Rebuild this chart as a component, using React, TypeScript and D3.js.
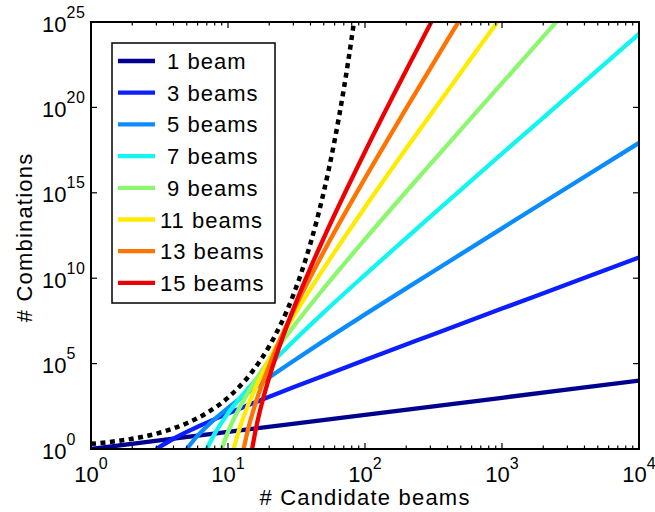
import React from "react";
import * as d3 from "d3";

// Number of simultaneous beams per curve and legend text
const beamCounts = [1, 3, 5, 7, 9, 11, 13, 15];
const legendLabels = [" 1 beam", " 3 beams", " 5 beams", " 7 beams", " 9 beams", "11 beams", "13 beams", "15 beams"];
const seriesColors = ["#00008f", "#0a1eff", "#0a8cff", "#12f5f0", "#8cf76e", "#ffeb00", "#ff7300", "#ee0000"];

// Candidate-beam counts (x) and log10 of number of combinations (y) per curve
const beams1N = [1, 10, 100, 1000, 10000];
const beams1Exp = [0, 1, 2, 3, 4];
const beams3N = [3, 4, 5, 6, 8, 10, 15, 20, 30, 50, 100, 300, 1000, 3000, 10000];
const beams3Exp = [0, 0.6, 1.0, 1.3, 1.75, 2.08, 2.66, 3.06, 3.61, 4.29, 5.21, 6.65, 8.22, 9.65, 11.22];
const beams5N = [5, 6, 7, 8, 10, 12, 15, 20, 30, 50, 100, 300, 1000, 3000, 10000];
const beams5Exp = [0, 0.78, 1.32, 1.75, 2.4, 2.9, 3.48, 4.19, 5.15, 6.33, 7.88, 10.29, 12.92, 15.31, 17.92];
const beams7N = [7, 8, 9, 10, 12, 15, 20, 30, 50, 100, 300, 1000, 3000, 10000];
const beams7Exp = [0, 0.9, 1.56, 2.08, 2.9, 3.81, 4.89, 6.31, 8.0, 10.2, 13.61, 17.29, 20.63, 24.3];
const beams9N = [9, 10, 11, 12, 13, 15, 20, 30, 50, 100, 300, 1000, 2000, 3000];
const beams9Exp = [0, 1.0, 1.74, 2.34, 2.85, 3.7, 5.23, 7.16, 9.4, 12.28, 16.68, 21.42, 24.14, 25.73];
const beams11N = [11, 12, 13, 14, 15, 16, 18, 20, 25, 30, 50, 100, 200, 500, 1000];
const beams11Exp = [0, 1.08, 1.89, 2.56, 3.14, 3.64, 4.5, 5.23, 6.65, 7.74, 10.57, 14.15, 17.59, 22.04, 25.37];
const beams13N = [13, 14, 15, 16, 17, 18, 20, 25, 30, 50, 100, 200, 400, 500];
const beams13Exp = [0, 1.15, 2.02, 2.75, 3.38, 3.93, 4.89, 6.72, 8.08, 11.55, 15.85, 19.94, 23.95, 25.22];
const beams15N = [15, 16, 17, 18, 19, 20, 22, 25, 30, 40, 50, 100, 200, 300, 320];
const beams15Exp = [0, 1.2, 2.13, 2.91, 3.59, 4.19, 5.23, 6.51, 8.19, 10.61, 12.35, 17.4, 22.17, 24.89, 25.32];
// Total of all subsets (dotted black curve)
const allSubsetsN = [1, 2, 3, 5, 7, 10, 15, 20, 30, 40, 50, 60, 70, 80, 85];
const allSubsetsExp = [0.3, 0.6, 0.9, 1.51, 2.11, 3.01, 4.52, 6.02, 9.03, 12.04, 15.05, 18.06, 21.07, 24.08, 25.59];

const seriesN = [beams1N, beams3N, beams5N, beams7N, beams9N, beams11N, beams13N, beams15N];
const seriesExp = [beams1Exp, beams3Exp, beams5Exp, beams7Exp, beams9Exp, beams11Exp, beams13Exp, beams15Exp];

const xTickExps = [0, 1, 2, 3, 4];
const yTickExps = [0, 5, 10, 15, 20, 25];

const W = 655;
const H = 512;
const left = 91;
const right = 639;
const top = 22;
const bottom = 449;
const FONT = "'Liberation Sans', Arial, Helvetica, sans-serif";

export default function App() {
  const x = d3.scaleLog().domain([1, 1e4]).range([left, right]);
  const y = d3.scaleLog().domain([1, 1e25]).range([bottom, top]);

  const line = d3
    .line<[number, number]>()
    .x((d) => x(d[0]))
    .y((d) => y(Math.pow(10, d[1])))
    .curve(d3.curveMonotoneX);

  const pts = (ns: number[], es: number[]) => ns.map((n, i) => [n, es[i]] as [number, number]);

  // minor ticks on the x axis
  const minorX: number[] = [];
  for (let e = 0; e < 4; e++) {
    for (let m = 2; m <= 9; m++) minorX.push(m * Math.pow(10, e));
  }

  const legendX = 112;
  const legendY = 43;
  const legendW = 163;
  const legendH = 260;
  const rowGap = 31.7;

  return (
    <svg width={W} height={H} style={{ position: "absolute", left: 0, top: 0, background: "#fff" }}>
      <defs>
        <clipPath id="plotClip">
          <rect x={left} y={top} width={right - left} height={bottom - top} />
        </clipPath>
      </defs>
      <rect x={0} y={0} width={W} height={H} fill="#fff" />

      <g clipPath="url(#plotClip)" fill="none">
        <path
          d={line(pts(allSubsetsN, allSubsetsExp)) || ""}
          stroke="#000"
          strokeWidth={4.5}
          strokeDasharray="5,4.5"
        />
        {beamCounts.map((k, i) => (
          <path key={k} d={line(pts(seriesN[i], seriesExp[i])) || ""} stroke={seriesColors[i]} strokeWidth={4.3} />
        ))}
      </g>

      {/* ticks */}
      <g stroke="#000" strokeWidth={1.2}>
        {xTickExps.map((e) => {
          const px = x(Math.pow(10, e));
          return (
            <g key={"xt" + e}>
              <line x1={px} x2={px} y1={bottom} y2={bottom - 6} />
              <line x1={px} x2={px} y1={top} y2={top + 6} />
            </g>
          );
        })}
        {minorX.map((v) => {
          const px = x(v);
          return (
            <g key={"xm" + v}>
              <line x1={px} x2={px} y1={bottom} y2={bottom - 3.5} />
              <line x1={px} x2={px} y1={top} y2={top + 3.5} />
            </g>
          );
        })}
        {yTickExps.map((e) => {
          const py = y(Math.pow(10, e));
          return (
            <g key={"yt" + e}>
              <line x1={left} x2={left + 6} y1={py} y2={py} />
              <line x1={right} x2={right - 6} y1={py} y2={py} />
            </g>
          );
        })}
      </g>

      {/* axes box */}
      <rect x={left} y={top} width={right - left} height={bottom - top} fill="none" stroke="#000" strokeWidth={2} />

      {/* x tick labels */}
      <g fontFamily={FONT} fill="#000">
        {xTickExps.map((e) => {
          const px = x(Math.pow(10, e));
          return (
            <text key={"xl" + e} x={px} y={482} textAnchor="middle" fontSize={22}>
              10
              <tspan fontSize={16} dy={-13}>
                {e}
              </tspan>
            </text>
          );
        })}
        {yTickExps.map((e) => {
          const py = y(Math.pow(10, e));
          return (
            <text key={"yl" + e} x={42} y={py + 9.5} textAnchor="start" fontSize={22}>
              10
              <tspan fontSize={16} dy={-14} letterSpacing={0.5}>
                {e}
              </tspan>
            </text>
          );
        })}
        <text x={(left + right) / 2} y={505} textAnchor="middle" fontSize={22} letterSpacing={1.2}>
          # Candidate beams
        </text>
        <text
          transform={`translate(32, ${(top + bottom) / 2 + 2}) rotate(-90)`}
          textAnchor="middle"
          fontSize={22}
          letterSpacing={1.2}
        >
          # Combinations
        </text>
      </g>

      {/* legend */}
      <g>
        <rect x={legendX} y={legendY} width={legendW} height={legendH} fill="#fff" stroke="#000" strokeWidth={1.5} />
        {beamCounts.map((k, i) => {
          const cy = legendY + 18 + i * rowGap;
          return (
            <g key={"lg" + k}>
              <line x1={118} x2={155} y1={cy} y2={cy} stroke={seriesColors[i]} strokeWidth={4.3} />
              <text
                x={160}
                y={cy + 8}
                fontFamily={FONT}
                fontSize={22}
                letterSpacing={1}
                xmlSpace="preserve"
                style={{ whiteSpace: "pre" }}
              >
                {legendLabels[i]}
              </text>
            </g>
          );
        })}
      </g>
    </svg>
  );
}
